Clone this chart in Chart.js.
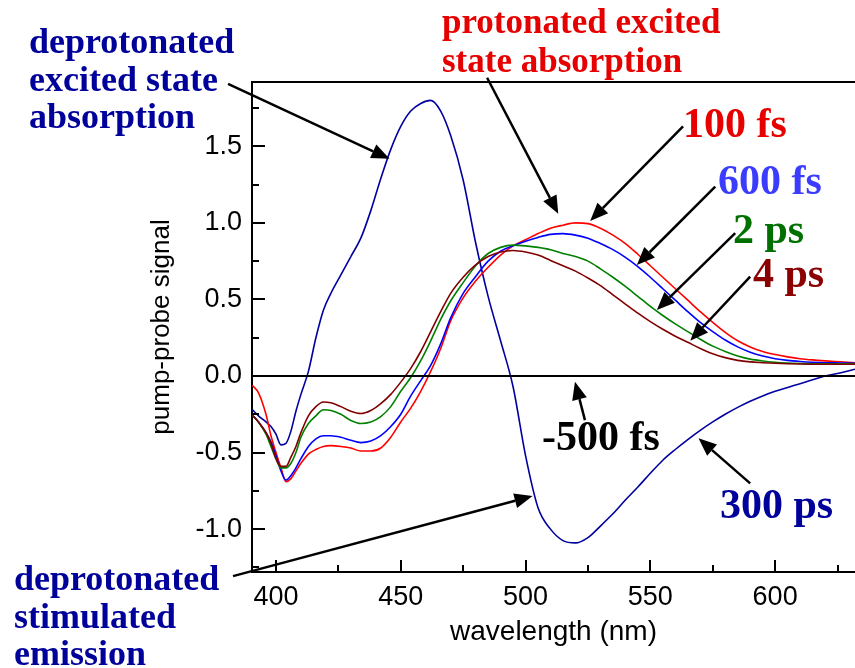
<!DOCTYPE html>
<html>
<head>
<meta charset="utf-8">
<script src="https://cdn.jsdelivr.net/npm/chart.js@4"></script>
<style>
  body { margin: 0; background: #fff; }
  #wrap { width: 855px; height: 668px; }
</style>
</head>
<body>
<div id="wrap"><canvas id="pumpChart" width="855" height="668"></canvas></div>
<script>
// wavelength grid (nm) and the signal
var wavelengths = [390.5, 393, 396, 398, 400, 402, 404, 406, 408, 410, 413, 416, 419, 422, 426, 430, 434, 438, 442, 446, 450, 454, 458, 462, 466, 470, 475, 480, 485, 490, 495, 500, 505, 510, 515, 520, 525, 530, 535, 540, 545, 550, 555, 560, 565, 570, 575, 580, 585, 590, 595, 600, 605, 610, 615, 620, 626, 632];

var signal100fs = [-0.06, -0.11, -0.25, -0.39, -0.50, -0.60, -0.69, -0.67, -0.62, -0.57, -0.51, -0.48, -0.46, -0.455, -0.46, -0.47, -0.49, -0.49, -0.47, -0.40, -0.30, -0.21, -0.10, 0.03, 0.18, 0.36, 0.51, 0.62, 0.71, 0.79, 0.85, 0.89, 0.93, 0.965, 0.985, 1.0, 0.995, 0.965, 0.92, 0.865, 0.795, 0.72, 0.645, 0.57, 0.495, 0.42, 0.35, 0.285, 0.23, 0.19, 0.16, 0.14, 0.125, 0.113, 0.105, 0.099, 0.093, 0.087];
var signal600fs = [-0.255, -0.30, -0.37, -0.43, -0.52, -0.62, -0.68, -0.65, -0.60, -0.54, -0.46, -0.41, -0.39, -0.39, -0.40, -0.42, -0.435, -0.425, -0.39, -0.33, -0.25, -0.13, -0.03, 0.07, 0.21, 0.38, 0.54, 0.65, 0.75, 0.815, 0.85, 0.88, 0.905, 0.925, 0.93, 0.92, 0.90, 0.865, 0.825, 0.775, 0.715, 0.645, 0.57, 0.495, 0.42, 0.35, 0.29, 0.235, 0.19, 0.155, 0.13, 0.113, 0.102, 0.095, 0.09, 0.087, 0.085, 0.083];
var signal2ps = [-0.255, -0.30, -0.38, -0.46, -0.54, -0.60, -0.60, -0.57, -0.50, -0.40, -0.31, -0.26, -0.22, -0.225, -0.25, -0.29, -0.31, -0.30, -0.265, -0.20, -0.10, -0.01, 0.10, 0.23, 0.37, 0.49, 0.61, 0.72, 0.80, 0.84, 0.855, 0.85, 0.84, 0.825, 0.80, 0.78, 0.75, 0.70, 0.645, 0.585, 0.52, 0.455, 0.395, 0.34, 0.29, 0.24, 0.195, 0.16, 0.13, 0.11, 0.098, 0.09, 0.085, 0.082, 0.08, 0.08, 0.08, 0.08];
var signal4ps = [-0.255, -0.30, -0.37, -0.44, -0.54, -0.59, -0.59, -0.53, -0.46, -0.37, -0.26, -0.20, -0.17, -0.175, -0.20, -0.23, -0.245, -0.225, -0.18, -0.12, -0.04, 0.05, 0.16, 0.29, 0.42, 0.54, 0.645, 0.725, 0.78, 0.81, 0.82, 0.81, 0.79, 0.755, 0.72, 0.685, 0.64, 0.59, 0.53, 0.47, 0.41, 0.355, 0.305, 0.26, 0.22, 0.18, 0.145, 0.12, 0.102, 0.092, 0.087, 0.083, 0.08, 0.078, 0.077, 0.077, 0.077, 0.077];
var signal300ps = [-0.22, -0.26, -0.30, -0.33, -0.38, -0.45, -0.44, -0.36, -0.23, -0.12, 0.03, 0.25, 0.43, 0.54, 0.66, 0.78, 0.90, 1.08, 1.29, 1.48, 1.63, 1.73, 1.78, 1.80, 1.73, 1.57, 1.28, 0.87, 0.52, 0.23, -0.07, -0.52, -0.86, -1.00, -1.075, -1.09, -1.055, -0.98, -0.90, -0.81, -0.725, -0.635, -0.55, -0.48, -0.415, -0.355, -0.30, -0.25, -0.205, -0.165, -0.13, -0.10, -0.075, -0.05, -0.025, 0.0, 0.02, 0.044];
var signalMinus500fs = [0, 0, 0, 0, 0, 0, 0, 0, 0, 0, 0, 0, 0, 0, 0, 0, 0, 0, 0, 0, 0, 0, 0, 0, 0, 0, 0, 0, 0, 0, 0, 0, 0, 0, 0, 0, 0, 0, 0, 0, 0, 0, 0, 0, 0, 0, 0, 0, 0, 0, 0, 0, 0, 0, 0, 0, 0, 0];

var xTickValues = [400, 425, 450, 475, 500, 525, 550, 575, 600, 625];
var xTickLabels = [400, 450, 500, 550, 600];
var yTickValues = [-1.25, -1.0, -0.75, -0.5, -0.25, 0.0, 0.25, 0.5, 0.75, 1.0, 1.25, 1.5, 1.75];
var yTickLabels = [-1.0, -0.5, 0.0, 0.5, 1.0, 1.5];

// arrows: [tail wavelength, tail signal, tip wavelength, tip signal]
var arrows = [
    [380.8, 1.908, 445.5, 1.418],
    [484.6, 1.948, 513.1, 1.059],
    [563.1, 1.631, 525.9, 1.013],
    [576.0, 1.237, 544.6, 0.725],
    [584.0, 0.933, 552.6, 0.431],
    [590.0, 0.649, 566.0, 0.231],
    [523.8, -0.288, 519.8, -0.037],
    [590.0, -0.701, 569.3, -0.407],
    [382.8, -1.307, 502.8, -0.784]
];

var serifBig = "bold 42px 'Liberation Serif', 'Times New Roman', serif";
var serifMid = "bold 35px 'Liberation Serif', 'Times New Roman', serif";
var serifLeft = "bold 36px 'Liberation Serif', 'Times New Roman', serif";
var notes = [
    { text: "deprotonated", x: 29, y: 53, color: "#00009a", font: serifLeft },
    { text: "excited state", x: 29, y: 91, color: "#00009a", font: serifLeft },
    { text: "absorption", x: 29, y: 128, color: "#00009a", font: serifLeft },
    { text: "deprotonated", x: 14, y: 590, color: "#00009a", font: serifLeft },
    { text: "stimulated", x: 14, y: 628, color: "#00009a", font: serifLeft },
    { text: "emission", x: 14, y: 665, color: "#00009a", font: serifLeft },
    { text: "protonated excited", x: 442, y: 33, color: "#e60000", font: serifMid },
    { text: "state absorption", x: 442, y: 72, color: "#e60000", font: serifMid },
    { text: "100 fs", x: 683, y: 137, color: "#e60000", font: serifBig },
    { text: "600 fs", x: 718, y: 194, color: "#3c3cff", font: serifBig },
    { text: "2 ps", x: 733, y: 243, color: "#007000", font: serifBig },
    { text: "4 ps", x: 753, y: 287, color: "#8b0000", font: serifBig },
    { text: "-500 fs", x: 542, y: 450, color: "#000000", font: serifBig },
    { text: "300 ps", x: 720, y: 518, color: "#00009a", font: serifBig }
];

function toPoints(values) {
    return wavelengths.map(function (w, i) { return { x: w, y: values[i] }; });
}

function trace(label, values, color, width) {
    return {
        label: label,
        data: toPoints(values),
        borderColor: color,
        borderWidth: width,
        pointRadius: 0,
        cubicInterpolationMode: "monotone",
        fill: false
    };
}

function isMultiple(v, step) {
    var r = v / step;
    return Math.abs(r - Math.round(r)) < 1e-6;
}

var decorPlugin = {
    id: "decor",
    afterDraw: function (chart) {
        var ctx = chart.ctx;
        var area = chart.chartArea;
        var xs = chart.scales.x;
        var ys = chart.scales.y;
        ctx.save();
        ctx.strokeStyle = "#000";
        ctx.lineWidth = 2;
        // top frame line
        ctx.beginPath();
        ctx.moveTo(area.left, area.top);
        ctx.lineTo(area.right, area.top);
        ctx.stroke();
        // inward ticks
        ctx.beginPath();
        xs.ticks.forEach(function (t) {
            var px = Math.round(xs.getPixelForValue(t.value));
            var len = isMultiple(t.value, 50) ? 12 : 7;
            ctx.moveTo(px, area.bottom);
            ctx.lineTo(px, area.bottom - len);
        });
        ys.ticks.forEach(function (t) {
            var py = Math.round(ys.getPixelForValue(t.value));
            var len = isMultiple(t.value, 0.5) ? 13 : 7;
            ctx.moveTo(area.left, py);
            ctx.lineTo(area.left + len, py);
        });
        ctx.stroke();

        // arrows
        ctx.fillStyle = "#000";
        ctx.lineWidth = 2.5;
        arrows.forEach(function (a) {
            var x0 = xs.getPixelForValue(a[0]), y0 = ys.getPixelForValue(a[1]);
            var x1 = xs.getPixelForValue(a[2]), y1 = ys.getPixelForValue(a[3]);
            var ang = Math.atan2(y1 - y0, x1 - x0);
            var headLen = 18, headW = 7.5;
            var bx = x1 - headLen * Math.cos(ang), by = y1 - headLen * Math.sin(ang);
            ctx.beginPath();
            ctx.moveTo(x0, y0);
            ctx.lineTo(bx, by);
            ctx.stroke();
            ctx.beginPath();
            ctx.moveTo(x1, y1);
            ctx.lineTo(bx + headW * Math.sin(ang), by - headW * Math.cos(ang));
            ctx.lineTo(bx - headW * Math.sin(ang), by + headW * Math.cos(ang));
            ctx.closePath();
            ctx.fill();
        });

        // text notes
        ctx.textAlign = "left";
        ctx.textBaseline = "alphabetic";
        notes.forEach(function (n) {
            ctx.font = n.font;
            ctx.fillStyle = n.color;
            ctx.fillText(n.text, n.x, n.y);
        });
        ctx.restore();
    }
};

var ctxx = document.getElementById("pumpChart").getContext("2d");

var myChart = new Chart(ctxx, {
    type: "line",
    data: {
        datasets: [
            trace("-500 fs", signalMinus500fs, "#000000", 2),
            trace("4 ps", signal4ps, "#800000", 1.6),
            trace("2 ps", signal2ps, "#008000", 1.6),
            trace("600 fs", signal600fs, "#0000ff", 1.6),
            trace("100 fs", signal100fs, "#ff0000", 1.6),
            trace("300 ps", signal300ps, "#0000a0", 1.6)
        ]
    },
    options: {
        responsive: false,
        animation: false,
        layout: { padding: { top: 82, right: 0, bottom: 0, left: 0 } },
        scales: {
            x: {
                type: "linear",
                min: 390.4,
                max: 632,
                afterFit: function (scale) { scale.height = 96; },
                afterBuildTicks: function (scale) {
                    scale.ticks = xTickValues.map(function (v) { return { value: v }; });
                },
                ticks: {
                    padding: 9,
                    color: "#000",
                    maxRotation: 0,
                    autoSkip: false,
                    font: { family: "'Liberation Sans', Arial, sans-serif", size: 27 },
                    callback: function (v) { return xTickLabels.indexOf(v) >= 0 ? String(v) : ""; }
                },
                grid: { display: false, drawTicks: false },
                border: { display: true, color: "#000", width: 2 },
                title: {
                    display: true,
                    text: "wavelength (nm)",
                    color: "#000",
                    font: { family: "'Liberation Sans', Arial, sans-serif", size: 28 },
                    padding: { top: 0, bottom: 19 }
                }
            },
            y: {
                type: "linear",
                min: -1.28,
                max: 1.92,
                afterFit: function (scale) { scale.width = 252; },
                afterBuildTicks: function (scale) {
                    scale.ticks = yTickValues.map(function (v) { return { value: v }; });
                },
                ticks: {
                    padding: 10,
                    color: "#000",
                    autoSkip: false,
                    font: { family: "'Liberation Sans', Arial, sans-serif", size: 27 },
                    callback: function (v) {
                        return yTickLabels.indexOf(v) >= 0 ? v.toFixed(1) : "";
                    }
                },
                grid: { display: false, drawTicks: false },
                border: { display: true, color: "#000", width: 2 },
                title: {
                    display: true,
                    text: "pump-probe signal",
                    color: "#000",
                    font: { family: "'Liberation Sans', Arial, sans-serif", size: 26 },
                    padding: { top: 146, bottom: 0 }
                }
            }
        },
        plugins: {
            legend: { display: false },
            tooltip: { enabled: false }
        }
    },
    plugins: [decorPlugin]
});
</script>
</body>
</html>
